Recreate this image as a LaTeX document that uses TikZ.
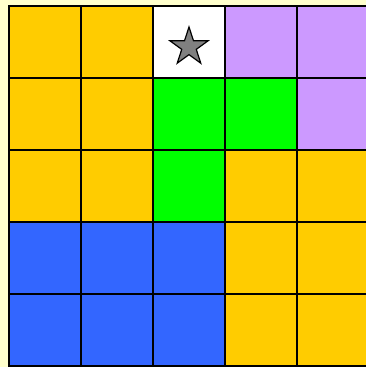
\documentclass[tikz,border=0pt]{standalone}
\usetikzlibrary{shapes.geometric}
\definecolor{bgc}{HTML}{FFFFCC}
\definecolor{cy}{HTML}{FFCC00}
\definecolor{cw}{HTML}{FFFFFF}
\definecolor{cp}{HTML}{CC99FF}
\definecolor{cg}{HTML}{00FF00}
\definecolor{cb}{HTML}{3366FF}
\definecolor{starc}{HTML}{808080}
\tikzset{cell/.style={draw=black,line width=2pt}}
\begin{document}
\begin{tikzpicture}[x=1pt,y=-1pt]
\path[fill=bgc] (0,0) rectangle (366,367);
\useasboundingbox (0,0) rectangle (366,367);
\foreach \row [count=\r from 0] in {{cy,cy,cw,cp,cp},{cy,cy,cg,cg,cp},{cy,cy,cg,cy,cy},{cb,cb,cb,cy,cy},{cb,cb,cb,cy,cy}}{
  \foreach \c [count=\k from 0] in \row {
    \path[cell,fill=\c] ({9+72*\k},{6+72*\r}) rectangle ++(72,72);
  }
}
\node[star,star points=5,star point ratio=2.618,draw=black,line width=1.2pt,fill=starc,minimum size=40pt,inner sep=0pt] (s) at (189,47) {};
\end{tikzpicture}
\end{document}
